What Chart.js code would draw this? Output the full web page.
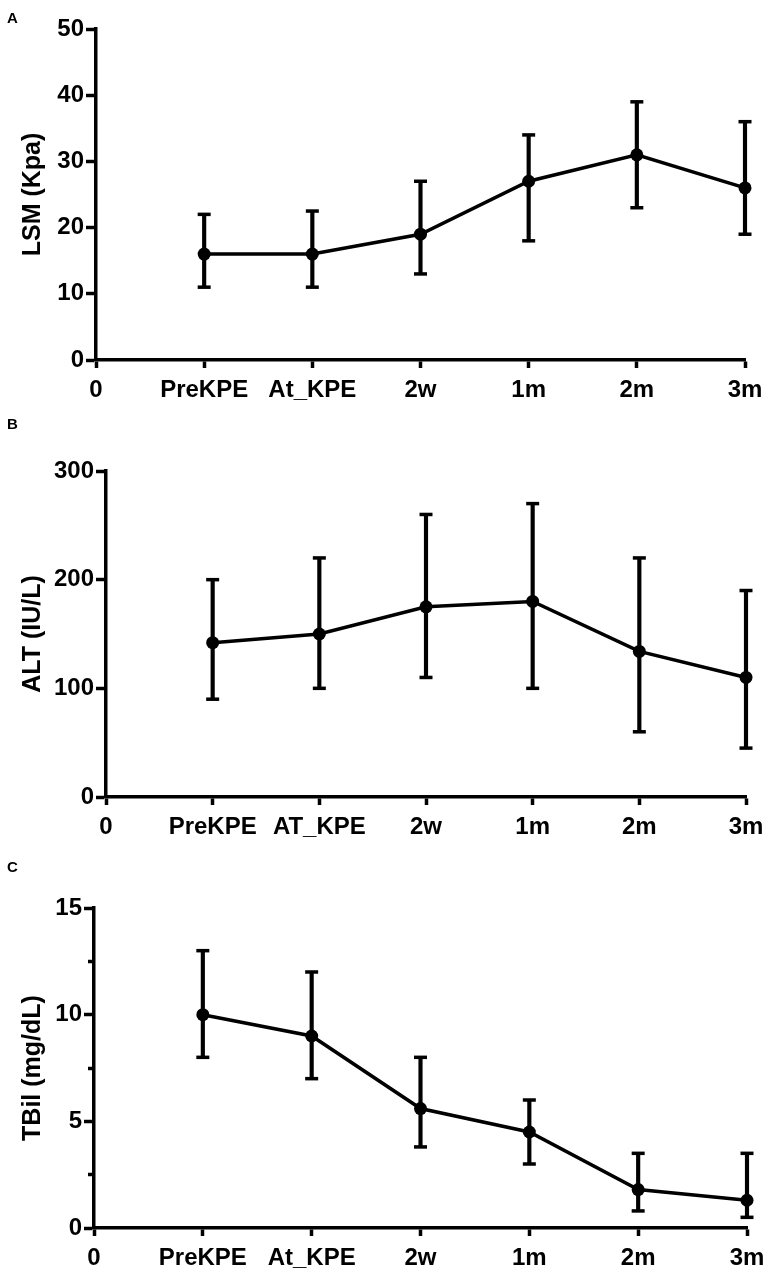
<!DOCTYPE html>
<html>
<head>
<meta charset="utf-8">
<script src="https://cdn.jsdelivr.net/npm/chart.js@4.4.1/dist/chart.umd.min.js"></script>
<style>
  html, body { margin: 0; padding: 0; background: #fff; }
  #page { position: relative; width: 765px; height: 1272px; overflow: hidden; }
  .panel { position: absolute; left: 0; width: 765px; }
  .tag { position: absolute; left: 7px; font: bold 15px "Liberation Sans", Arial, sans-serif; line-height: 1; }
</style>
</head>
<body>
<div id="page">
  <div class="panel" style="top:0;height:410px"><canvas id="chartA"></canvas></div>
  <div class="panel" style="top:410px;height:430px"><canvas id="chartB"></canvas></div>
  <div class="panel" style="top:845px;height:427px"><canvas id="chartC"></canvas></div>
  <div class="tag" style="top:10px">A</div>
  <div class="tag" style="top:416px">B</div>
  <div class="tag" style="top:859px">C</div>
</div>
<script>
// time points (x = 0 is only the axis origin)
const timeLabels = ['0', 'PreKPE', 'At_KPE', '2w', '1m', '2m', '3m'];
const timeLabelsB = ['0', 'PreKPE', 'AT_KPE', '2w', '1m', '2m', '3m'];

// A - liver stiffness
const lsmMean = [16, 16, 19, 27, 31, 26];
const lsmLow  = [11, 11, 13, 18, 23, 19];
const lsmHigh = [22, 22.5, 27, 34, 39, 36];
const lsmTicks = [0, 10, 20, 30, 40, 50];

// B - ALT
const altMean = [142, 150, 175, 180, 134, 110];
const altLow  = [90, 100, 110, 100, 60, 45];
const altHigh = [200, 220, 260, 270, 220, 190];
const altTicks = [0, 100, 200, 300];

// C - total bilirubin
const tbilMean = [10, 9, 5.6, 4.5, 1.8, 1.3];
const tbilLow  = [8, 7, 3.8, 3, 0.8, 0.5];
const tbilHigh = [13, 12, 8, 6, 3.5, 3.5];
const tbilTicks = [0, 5, 10, 15];
const tbilMinorTicks = [2.5, 7.5, 12.5];

const BLACK = '#000';
const FAMILY = '"Liberation Sans", Arial, sans-serif';
const LW = 3.5;

function makePanel(id, p) {
  const pts = arr => arr.map((v, i) => ({ x: i + 1, y: v }));
  const scales = {
    x: {
      type: 'linear', min: 0, max: 6, offset: false,
      afterBuildTicks: s => { s.ticks = p.labels.map((_, i) => ({ value: i })); },
      ticks: {
        autoSkip: false, maxRotation: 0, padding: 8, color: BLACK,
        font: { family: FAMILY, size: 24, weight: 'bold' },
        callback: v => p.labels[v]
      },
      grid: { offset: false, drawOnChartArea: false, tickLength: 8, tickWidth: LW, tickColor: BLACK },
      border: { display: true, color: BLACK, width: LW },
      afterFit: s => { s.height = p.xHeight; s.paddingLeft = 0; s.paddingRight = 0; }
    },
    y: {
      min: p.ticks[0], max: p.ticks[p.ticks.length - 1],
      afterBuildTicks: s => { s.ticks = p.ticks.map(v => ({ value: v })); },
      ticks: { padding: 2, color: BLACK, font: { family: FAMILY, size: 24, weight: 'bold' } },
      grid: { drawOnChartArea: false, tickLength: 10, tickWidth: LW, tickColor: BLACK },
      border: { display: true, color: BLACK, width: LW },
      title: {
        display: true, text: p.title, color: BLACK,
        font: { family: FAMILY, size: 25, weight: 'bold', lineHeight: 1 },
        padding: { top: 21, bottom: 0 }
      },
      afterFit: s => { s.width = p.yWidth; s.paddingTop = 0; s.paddingBottom = 0; }
    }
  };
  if (p.minor) {
    scales.yMinor = {
      position: { x: 0 },
      min: p.ticks[0], max: p.ticks[p.ticks.length - 1],
      afterBuildTicks: s => { s.ticks = p.minor.map(v => ({ value: v })); },
      ticks: { display: false },
      grid: { drawOnChartArea: false, tickLength: 6, tickWidth: LW, tickColor: BLACK },
      border: { display: false },
      afterFit: s => { s.paddingTop = 0; s.paddingBottom = 0; }
    };
  }

  new Chart(document.getElementById(id), {
    type: 'line',
    data: {
      datasets: [
        {
          // mean line
          data: pts(p.mean), yAxisID: 'y', order: 0, clip: false,
          borderColor: BLACK, borderWidth: LW, backgroundColor: BLACK,
          pointRadius: 6.5, pointBackgroundColor: BLACK, pointBorderColor: BLACK, pointBorderWidth: 0,
          tension: 0
        },
        {
          // error bar stems
          type: 'bar', yAxisID: 'y', order: 1, clip: false,
          data: p.mean.map((_, i) => ({ x: i + 1, y: [p.low[i], p.high[i]] })),
          backgroundColor: BLACK, borderWidth: 0, barThickness: LW
        },
        {
          // error bar caps
          data: pts(p.low).concat(pts(p.high)), yAxisID: 'y', order: 1, clip: false,
          showLine: false, pointStyle: 'line', pointRadius: 6.5,
          pointBorderColor: BLACK, pointBorderWidth: LW
        }
      ]
    },
    options: {
      responsive: true, maintainAspectRatio: false,
      animation: false, events: [],
      layout: { padding: { top: p.top, right: p.right, bottom: 0, left: 0 } },
      plugins: { legend: { display: false }, tooltip: { enabled: false } },
      scales: scales
    }
  });
}

makePanel('chartA', {
  labels: timeLabels, title: 'LSM (Kpa)',
  mean: lsmMean, low: lsmLow, high: lsmHigh, ticks: lsmTicks,
  top: 29, right: 20, yWidth: 96, xHeight: 50
});
makePanel('chartB', {
  labels: timeLabelsB, title: 'ALT (IU/L)',
  mean: altMean, low: altLow, high: altHigh, ticks: altTicks,
  top: 61, right: 19, yWidth: 106, xHeight: 43
});
makePanel('chartC', {
  labels: timeLabels, title: 'TBil (mg/dL)',
  mean: tbilMean, low: tbilLow, high: tbilHigh, ticks: tbilTicks, minor: tbilMinorTicks,
  top: 63, right: 18, yWidth: 94, xHeight: 44
});
</script>
</body>
</html>
